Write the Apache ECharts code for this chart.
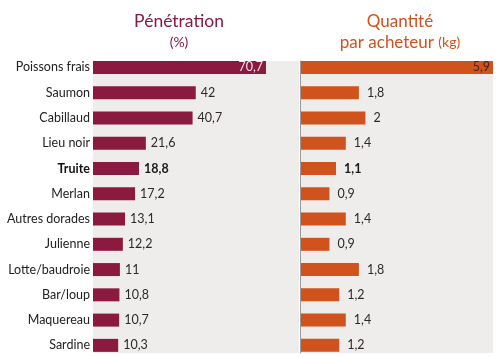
<!DOCTYPE html>
<html><head><meta charset="utf-8">
<script src="https://cdn.jsdelivr.net/npm/echarts@6/dist/echarts.min.js"></script>
<style>html,body{margin:0;padding:0;background:#fff}#c{width:500px;height:358px}</style>
</head><body><div id="c"></div>
<script>
const categories = ['Poissons frais','Saumon','Cabillaud','Lieu noir','Truite','Merlan','Autres dorades','Julienne','Lotte/baudroie','Bar/loup','Maquereau','Sardine'];
const penetration = [70.7, 42, 40.7, 21.6, 18.8, 17.2, 13.1, 12.2, 11, 10.8, 10.7, 10.3];
const quantite = [5.9, 1.8, 2, 1.4, 1.1, 0.9, 1.4, 0.9, 1.8, 1.2, 1.4, 1.2];
const highlight = 'Truite';
const totalIndex = 0;

const FONT = 'Lato';
const MAROON = '#8a1a40';
const ORANGE = '#d0521c';
const BG = '#eeedeb';
const fmt = v => String(v).replace('.', ',');

function buildData(vals, insideColor) {
  return vals.map((v, i) => i === totalIndex
    ? { value: v, label: { position: 'insideRight', distance: 3, color: insideColor } }
    : v);
}
function labelFormatter(p) {
  const t = fmt(p.value);
  return categories[p.dataIndex] === highlight ? '{b|' + t + '}' : t;
}
const labelBase = {
  show: true, position: 'right', fontFamily: FONT, fontSize: 12.5, color: '#2a2a2a',
  formatter: labelFormatter,
  rich: { b: { fontFamily: FONT, fontSize: 12.5, fontWeight: 'bold', color: '#1a1a1a' } }
};

// layout
const gridTop = 54.8, gridHeight = 304.4, barW = 13;
const band = gridHeight / categories.length;
const bgTop = gridTop + band / 2 - barW / 2;
const bgHeight = gridHeight - band + barW;

const chart = echarts.init(document.getElementById('c'), null, { renderer: 'canvas' });
chart.setOption({
  animation: false,
  backgroundColor: '#fff',
  title: [
    { text: '{a|Pénétration}\n{b|(%)}', left: 174, top: 6, textAlign: 'center',
      textStyle: { fontWeight: 'normal', rich: {
        a: { fontFamily: FONT, fontSize: 17.5, fontWeight: 'normal', color: MAROON, align: 'center', lineHeight: 21 },
        b: { fontFamily: FONT, fontSize: 14, fontWeight: 'normal', color: MAROON, align: 'center', lineHeight: 21 } } } },
    { text: '{a|Quantité}\n{a|par acheteur }{b|(kg)}', left: 395, top: 6, textAlign: 'center',
      textStyle: { fontWeight: 'normal', rich: {
        a: { fontFamily: FONT, fontSize: 17, fontWeight: 'normal', color: ORANGE, lineHeight: 21 },
        b: { fontFamily: FONT, fontSize: 14, fontWeight: 'normal', color: ORANGE, lineHeight: 21 } } } }
  ],
  grid: [
    { left: 93, width: 206, top: gridTop, height: gridHeight },
    { left: 300, width: 193, top: gridTop, height: gridHeight },
    { left: 93, width: 206, top: bgTop, height: bgHeight, show: true, backgroundColor: BG, borderWidth: 0, borderColor: 'transparent' },
    { left: 300, width: 193, top: bgTop, height: bgHeight, show: true, backgroundColor: BG, borderWidth: 0, borderColor: 'transparent' }
  ],
  xAxis: [
    { gridIndex: 0, type: 'value', min: 0, max: 84.2, show: false },
    { gridIndex: 1, type: 'value', min: 0, max: 5.9, show: false },
    { gridIndex: 2, type: 'value', min: 0, max: 1, show: false },
    { gridIndex: 3, type: 'value', min: 0, max: 1, show: false }
  ],
  yAxis: [
    { gridIndex: 0, type: 'category', data: categories, inverse: true,
      axisLine: { show: false }, axisTick: { show: false }, splitLine: { show: false },
      axisLabel: { margin: 3, fontFamily: FONT, fontSize: 12.5, color: '#222',
        formatter: v => v === highlight ? '{b|' + v + '}' : v,
        rich: { b: { fontFamily: FONT, fontSize: 12.5, fontWeight: 'bold', color: '#111' } } } },
    { gridIndex: 1, type: 'category', data: categories, inverse: true,
      axisLine: { show: false }, axisTick: { show: false }, axisLabel: { show: false }, splitLine: { show: false } },
    { gridIndex: 2, type: 'value', min: 0, max: 1, show: false },
    { gridIndex: 3, type: 'value', min: 0, max: 1, z: 5,
      axisLine: { show: true, lineStyle: { color: '#9a9a9a', width: 1 } },
      axisTick: { show: false }, axisLabel: { show: false }, splitLine: { show: false } }
  ],
  series: [
    { type: 'bar', xAxisIndex: 0, yAxisIndex: 0, barWidth: barW, z: 3,
      itemStyle: { color: MAROON },
      label: Object.assign({}, labelBase, { distance: 5 }),
      data: buildData(penetration, '#f6e9ee') },
    { type: 'bar', xAxisIndex: 1, yAxisIndex: 1, barWidth: barW, z: 3,
      itemStyle: { color: ORANGE },
      label: Object.assign({}, labelBase, { distance: 8 }),
      data: buildData(quantite, '#4a2412') }
  ]
});
</script></body></html>
